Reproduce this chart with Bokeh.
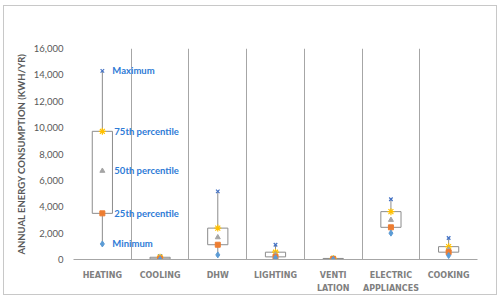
from bokeh.plotting import figure
from bokeh.models import Range1d, FixedTicker
from bokeh.core.properties import value
from bokeh.embed import file_html
from bokeh.resources import INLINE

categories = ["HEATING", "COOLING", "DHW", "LIGHTING", "VENTI\nLATION", "ELECTRIC\nAPPLIANCES", "COOKING"]
minimum = [1180, 10, 350, 130, 10, 2000, 300]
p25 = [3500, 50, 1120, 200, 30, 2440, 555]
p50 = [6720, 100, 1680, 375, 50, 3000, 750]
p75 = [9720, 170, 2380, 555, 80, 3630, 975]
maximum = [14300, 250, 5170, 1120, 140, 4570, 1630]
label_texts = ["Maximum", "75th percentile", "50th percentile", "25th percentile", "Minimum"]
y_ticks = [0, 2000, 4000, 6000, 8000, 10000, 12000, 14000, 16000]

xs = [i + 0.5 for i in range(len(categories))]
hw = 0.175

p = figure(width=494, height=290, x_range=Range1d(0, 7), y_range=Range1d(0, 16000),
           output_backend="svg", toolbar_location=None,
           min_border_left=69, min_border_right=21, min_border_top=42, min_border_bottom=34)
p.styles = {"margin-left": "3px", "margin-top": "5px", "border": "1px solid #c8c8c8"}
p.outline_line_color = None
p.background_fill_color = "white"
p.border_fill_color = "white"

# grid
p.ygrid.grid_line_color = None
p.xgrid.ticker = FixedTicker(ticks=list(range(8)))
p.xgrid.grid_line_color = "#a6a6a6"
p.xgrid.grid_line_width = 1

# x axis
p.xaxis.ticker = FixedTicker(ticks=xs)
p.xaxis.major_label_overrides = {x: c for x, c in zip(xs, categories)}
p.xaxis.major_tick_line_color = None
p.xaxis.minor_tick_line_color = None
p.xaxis.axis_line_color = "#a6a6a6"
p.xaxis.major_label_text_font = "DejaVu Sans"
p.xaxis.major_label_text_font_style = "bold"
p.xaxis.major_label_text_font_size = "8px"
p.xaxis.major_label_text_color = "#808080"
p.xaxis.major_label_text_line_height = 1.55
p.xaxis.major_label_standoff = 5

# y axis
p.yaxis.ticker = FixedTicker(ticks=y_ticks)
p.yaxis.major_label_overrides = {t: f"{t:,}" for t in y_ticks}
p.yaxis.axis_line_color = None
p.yaxis.major_tick_line_color = None
p.yaxis.minor_tick_line_color = None
p.yaxis.major_label_text_font = "Lato"
p.yaxis.major_label_text_font_size = "9.5px"
p.yaxis.major_label_text_color = "#595959"
p.yaxis.major_label_standoff = 4
p.yaxis.axis_label = "ANNUAL ENERGY CONSUMPTION (KWH/YR)"
p.yaxis.axis_label_text_font = "Lato"
p.yaxis.axis_label_text_font_style = "bold"
p.yaxis.axis_label_text_font_size = "9.5px"
p.yaxis.axis_label_text_color = "#595959"
p.yaxis.axis_label_standoff = 4

# boxes and whiskers
p.segment(x0=xs, y0=p75, x1=xs, y1=maximum, line_color="#8c8c8c", line_width=1)
p.segment(x0=xs, y0=minimum, x1=xs, y1=p25, line_color="#8c8c8c", line_width=1)
p.quad(left=[x - hw for x in xs], right=[x + hw for x in xs], bottom=p25, top=p75,
       fill_color="white", fill_alpha=0, line_color="#8c8c8c", line_width=1)

# markers
p.scatter(xs, maximum, marker="x", size=5, line_color="#4472C4", line_width=1.2)
p.scatter(xs, p75, marker="asterisk", size=7, line_color="#FFC000", line_width=1.2)
p.scatter(xs, p50, marker="triangle", size=5, fill_color="#A5A5A5", line_color="#A5A5A5")
p.scatter(xs, p25, marker="square", size=5, fill_color="#ED7D31", line_color="#ED7D31")
p.scatter(xs, minimum, marker="diamond", size=6, fill_color="#5B9BD5", line_color="#5B9BD5")

# annotation labels on heating
ly = [maximum[0], p75[0], p50[0], p25[0], minimum[0]]
p.text(x=[xs[0]] * 5, y=ly, text=label_texts, x_offset=[10, 12, 12, 12, 10],
       text_font=value("Lato"), text_font_style="bold", text_font_size="9.5px",
       text_color="#2E7BD6", text_baseline="middle", text_align="left")

open("out.html", "w").write(file_html(p, INLINE))
